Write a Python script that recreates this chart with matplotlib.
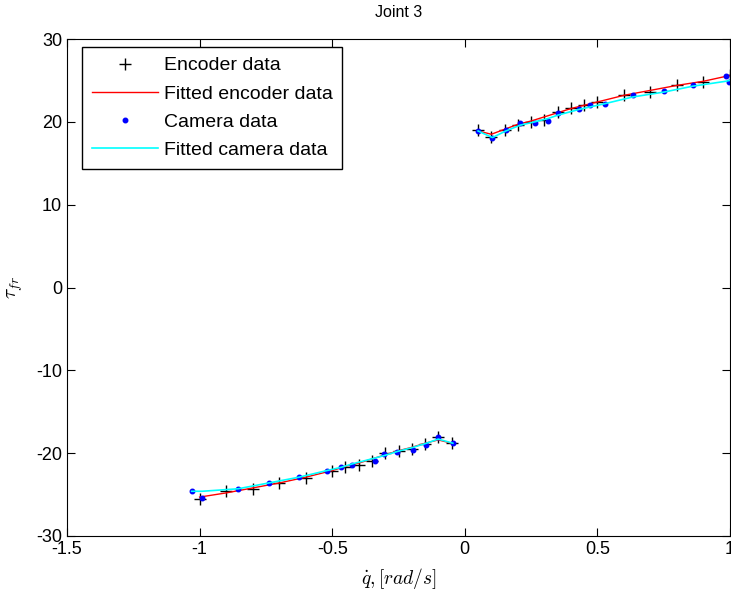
import numpy as np
import matplotlib
matplotlib.use("Agg")
import matplotlib.pyplot as plt

plt.rcParams['font.family'] = ['Liberation Sans', 'DejaVu Sans']
plt.rcParams['axes.unicode_minus'] = False
plt.rcParams['mathtext.fontset'] = 'cm'

# ================================
# DATA
# ================================
# negative velocity branch
enc_x_neg = [-1.0, -0.9, -0.8, -0.7, -0.6, -0.5, -0.45, -0.4, -0.35, -0.3, -0.25, -0.2, -0.15, -0.1, -0.05]
enc_y_neg = [-25.5, -24.6, -24.3, -23.6, -23.0, -22.1, -21.7, -21.4, -21.0, -20.0, -19.7, -19.5, -18.9, -18.0, -18.8]
enc_fit_neg = [-25.3, -24.8, -24.2, -23.6, -22.9, -22.1, -21.6, -21.2, -20.7, -20.2, -19.7, -19.3, -18.8, -18.4, -18.8]

cam_x_neg = [-1.03, -0.99, -0.855, -0.74, -0.625, -0.52, -0.465, -0.425, -0.34, -0.305, -0.255, -0.195, -0.145, -0.1, -0.045]
cam_y_neg = [-24.6, -25.4, -24.3, -23.55, -22.9, -22.1, -21.7, -21.4, -21.0, -20.1, -19.8, -19.6, -19.0, -18.0, -18.8]
cam_fit_neg = [-24.6, -24.6, -24.3, -23.6, -22.9, -22.1, -21.7, -21.3, -20.6, -20.3, -19.8, -19.3, -18.8, -18.3, -18.8]

# positive velocity branch
enc_x_pos = [0.05, 0.1, 0.15, 0.2, 0.25, 0.3, 0.35, 0.4, 0.45, 0.5, 0.6, 0.7, 0.8, 0.9, 1.0]
enc_y_pos = [18.96, 18.2, 19.0, 19.6, 20.0, 20.2, 21.2, 21.65, 22.0, 22.4, 23.2, 23.6, 24.4, 24.8, 25.6]
enc_fit_pos = [18.9, 18.5, 19.1, 19.7, 20.1, 20.6, 21.1, 21.6, 22.0, 22.4, 23.2, 23.8, 24.4, 24.9, 25.6]

cam_x_pos = [0.05, 0.104, 0.155, 0.209, 0.264, 0.314, 0.35, 0.431, 0.473, 0.529, 0.633, 0.752, 0.859, 0.985, 0.998]
cam_y_pos = [18.9, 18.1, 19.0, 19.8, 19.8, 20.1, 21.1, 21.5, 22.0, 22.2, 23.2, 23.7, 24.4, 25.5, 24.8]
cam_fit_pos = [18.9, 18.1, 18.9, 19.6, 20.0, 20.4, 20.8, 21.5, 21.8, 22.2, 23.0, 23.6, 24.3, 24.9, 25.0]

x_ticks = [-1.5, -1, -0.5, 0, 0.5, 1]
x_tick_labels = ['-1.5', '-1', '-0.5', '0', '0.5', '1']
y_ticks = [-30, -20, -10, 0, 10, 20, 30]

# ================================
# PLOT
# ================================
fig = plt.figure(figsize=(7.31, 5.97), dpi=100)
ax = fig.add_axes([67 / 731, 1 - 536 / 597, 663 / 731, 497 / 597])

ax.plot(enc_x_neg, enc_y_neg, 'k+', ms=9, mew=1, label='Encoder data')
ax.plot(enc_x_pos, enc_y_pos, 'k+', ms=9, mew=1)
ax.plot(enc_x_neg, enc_fit_neg, 'r-', lw=1, label='Fitted encoder data')
ax.plot(enc_x_pos, enc_fit_pos, 'r-', lw=1)
ax.plot(cam_x_neg, cam_y_neg, 'b.', ms=6.5, label='Camera data')
ax.plot(cam_x_pos, cam_y_pos, 'b.', ms=6.5)
ax.plot(cam_x_neg, cam_fit_neg, '-', color='cyan', lw=1.2, label='Fitted camera data')
ax.plot(cam_x_pos, cam_fit_pos, '-', color='cyan', lw=1.2)

ax.set_xlim(-1.5, 1)
ax.set_ylim(-30, 30)
ax.set_xticks(x_ticks)
ax.set_xticklabels(x_tick_labels)
ax.set_yticks(y_ticks)
ax.tick_params(direction='in', top=True, right=True, length=6, labelsize=13)

ax.set_title('Joint 3', fontsize=11.5, pad=16)
ax.set_xlabel(r'$\dot{q}, [rad/s]$', fontsize=14, labelpad=6)
ax.set_ylabel(r'$\tau_{fr}$', fontsize=14, labelpad=8)

leg = ax.legend(loc='upper left', bbox_to_anchor=(15 / 663, 1 - 8 / 497), borderaxespad=0,
                fontsize=14, fancybox=False, edgecolor='black', framealpha=1,
                handlelength=3.4, handletextpad=0.3, labelspacing=0.55, borderpad=0.5)
leg.get_frame().set_linewidth(1)

fig.savefig("out.png", dpi=100)
